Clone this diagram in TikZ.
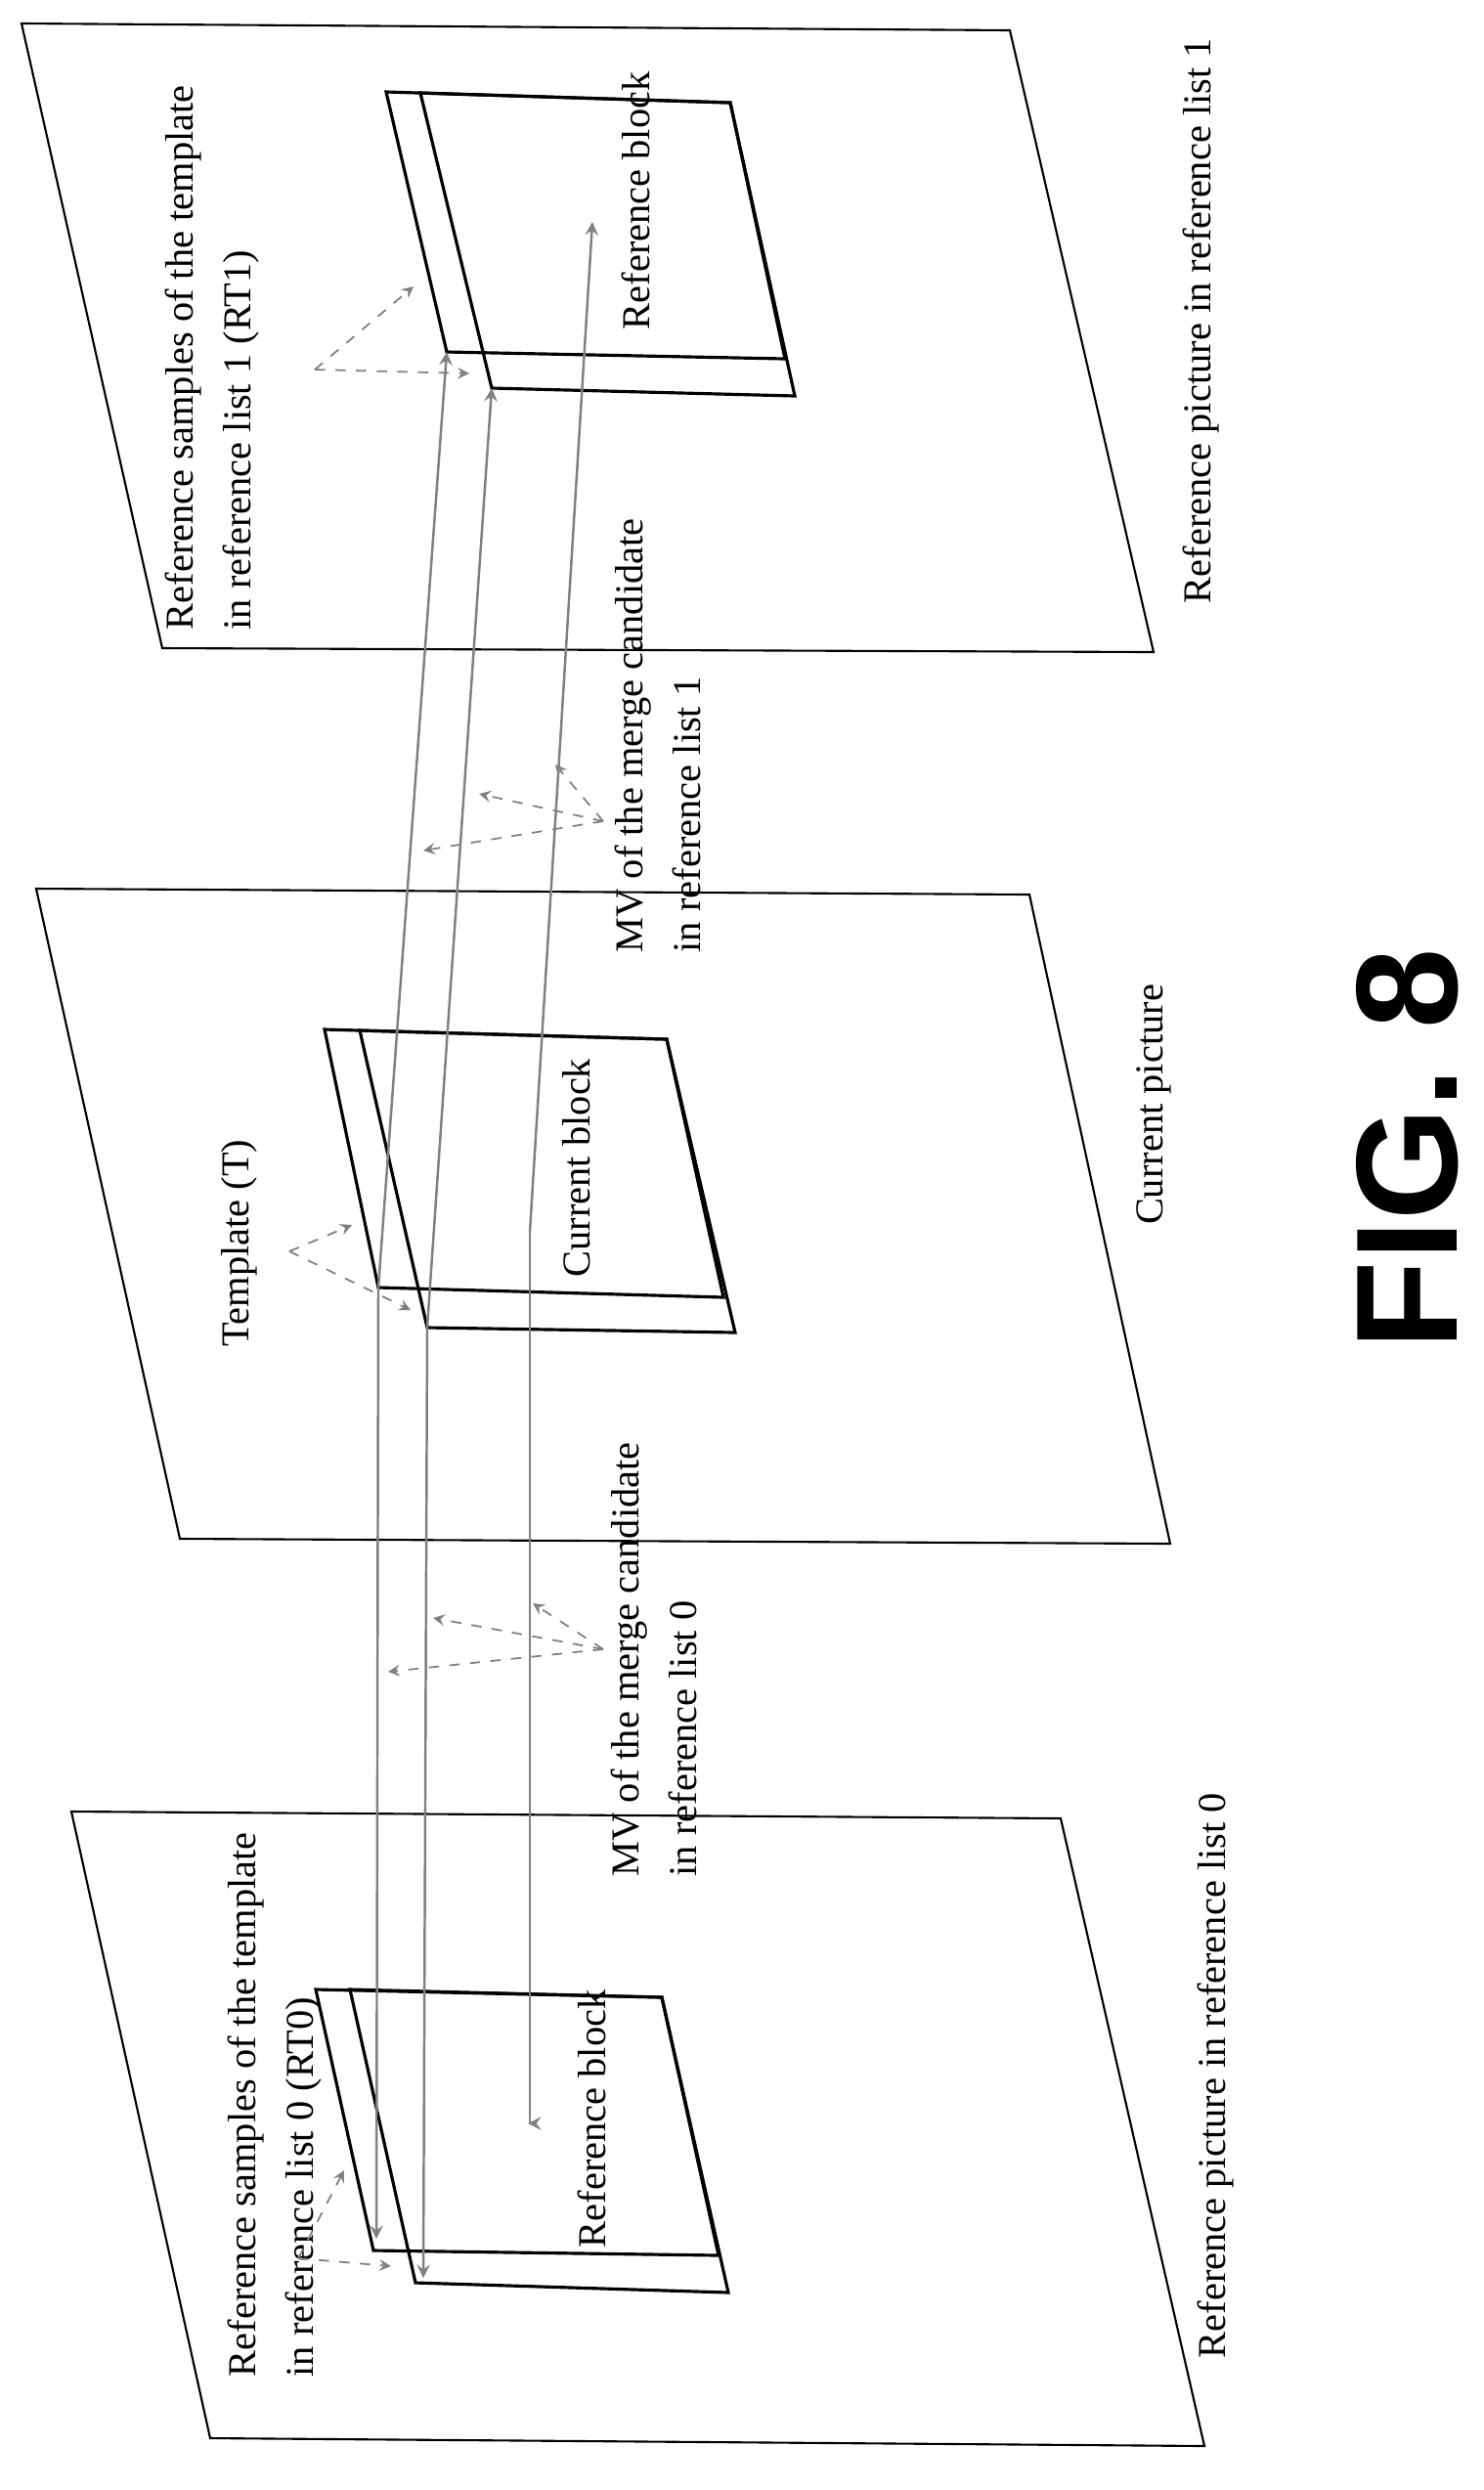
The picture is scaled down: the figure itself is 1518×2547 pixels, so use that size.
\documentclass[tikz,border=0pt]{standalone}
\usepackage{fontspec}
\setmainfont{Liberation Serif}
\setsansfont{Liberation Sans}
\tikzset{
  plane/.style={draw=black, line width=0.6pt},
  blk/.style={draw=black, line width=0.9pt},
  mvline/.style={draw=gray, line width=0.7pt, ->, >=stealth},
  pointer/.style={draw=gray, dashed, line width=0.5pt, ->, >=stealth},
  lbl/.style={rotate=90, inner sep=0pt, font=\fontsize{11.5}{17}\selectfont, align=left}
}
\begin{document}
\begin{tikzpicture}[x=0.01cm, y=-0.01cm]
\useasboundingbox (0,0) rectangle (1518,2547);

%% Pictures
\draw [plane] (22,24) -- (1033,31) -- (1180,667) -- (166,663) -- cycle;
\draw [plane] (37,909) -- (1053,915) -- (1197,1579) -- (184,1574) -- cycle;
\draw [plane] (73,1853) -- (1085,1860) -- (1232,2502) -- (215,2494) -- cycle;

%% Reference block (list 1)
\draw [blk] (395,94) -- (747,105) -- (803,367) -- (457,360) -- cycle;
\draw [blk] (430,95) -- (747,105) -- (813,405) -- (503,397) -- cycle;
\coordinate (rt1a) at (457,360);
\coordinate (rt1b) at (503,397);
\coordinate (mv1) at (606,227);

% Current block + template
\draw [blk] (332,1053) -- (682,1063) -- (740,1327) -- (387,1317) -- cycle;
\draw [blk] (368,1054) -- (682,1063) -- (752,1363) -- (437,1358) -- cycle;
\coordinate (ta) at (387,1317);
\coordinate (tb) at (437,1358);
\coordinate (cur) at (542,1260);

%% Reference block (list 0)
\draw [blk] (323,2035) -- (677,2043) -- (735,2307) -- (382,2302) -- cycle;
\draw [blk] (358,2035) -- (677,2043) -- (745,2345) -- (425,2335) -- cycle;
\coordinate (rt0a) at (385,2290);
\coordinate (rt0b) at (433,2330);
\coordinate (mv0) at (540,2172);

%% Motion vectors
\draw [mvline] (ta) -- (rt1a);
\draw [mvline] (tb) -- (rt1b);
\draw [mvline] (cur) -- (mv1);
\draw [mvline] (ta) -- (rt0a);
\draw [mvline] (tb) -- (rt0b);
\draw [mvline] (cur) |- (mv0);

%% Labels
\node [lbl, anchor=north west] (rt1lbl) at (168,645) {Reference samples of the template\\in reference list 1 (RT1)};
\node [lbl, anchor=west] (blk1) at (650,338) {Reference block};
\node [lbl, anchor=north west] (mv1lbl) at (628,975) {MV of the merge candidate\\in reference list 1};
\node [lbl, anchor=west] (pic1) at (1229,618) {Reference picture in reference list 1};

\node [lbl, anchor=west] (tlbl) at (245,1378) {Template (T)};
\node [lbl, anchor=west] (curblk) at (590,1307) {Current block};
\node [lbl] (curpic) at (1180,1130) {Current picture};

\node [lbl, anchor=north west] (rt0lbl) at (232,2432) {Reference samples of the template\\in reference list 0 (RT0)};
\node [lbl, anchor=west] (blk0) at (605,2300) {Reference block};
\node [lbl, anchor=north west] (mv0lbl) at (624,1920) {MV of the merge candidate\\in reference list 0};
\node [lbl, anchor=west] (pic0) at (1244,2413) {Reference picture in reference list 0};

\node [rotate=90, font=\sffamily\bfseries\fontsize{42}{42}\selectfont] (fig) at (1440,1175) {FIG. 8};

%% Pointers
\coordinate (p1) at (322,378);
\draw [pointer] (p1) -- (423,293);
\draw [pointer] (p1) -- (480,382);
\coordinate (pt) at (296,1280);
\draw [pointer] (pt) -- (360,1253);
\draw [pointer] (pt) -- (420,1340);
\coordinate (pm1) at (617,840);
\draw [pointer] (pm1) -- (568,782);
\draw [pointer] (pm1) -- (490,812);
\draw [pointer] (pm1) -- (433,870);
\coordinate (pm0) at (617,1687);
\draw [pointer] (pm0) -- (545,1640);
\draw [pointer] (pm0) -- (443,1655);
\draw [pointer] (pm0) -- (397,1710);
\coordinate (p0) at (305,2310);
\draw [pointer] (p0) -- (352,2220);
\draw [pointer] (p0) -- (400,2318);

\end{tikzpicture}
\end{document}
